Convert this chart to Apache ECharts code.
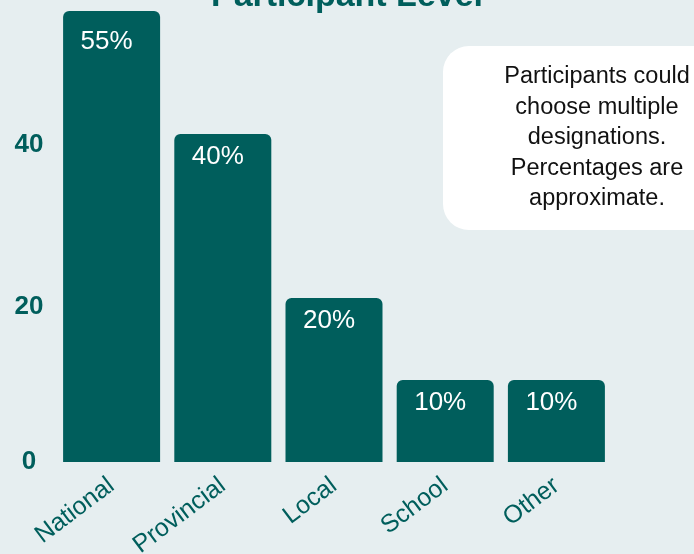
<!DOCTYPE html>
<html>
<head>
<meta charset="utf-8">
<script src="https://cdn.jsdelivr.net/npm/echarts@6/dist/echarts.min.js"></script>
<style>
html,body{margin:0;padding:0;background:#e6eef0;}
#c{width:694px;height:554px;}
</style>
</head>
<body>
<div id="c"></div>
<script>
const categories = ['National', 'Provincial', 'Local', 'School', 'Other'];
const values = [55, 40, 20, 10, 10];
const valueLabels = ['55%', '40%', '20%', '10%', '10%'];
const titleText = 'Participant Level';
const noteText = 'Participants could\nchoose multiple\ndesignations.\nPercentages are\napproximate.';

const teal = '#005e5c';
const chart = echarts.init(document.getElementById('c'));
const yRich = {};
[[0, 0], [20, 18], [40, 22]].forEach(([v, p]) => {
  yRich['t' + v] = {padding: [p, 0, 0, 0], color: teal, fontSize: 26, fontWeight: 'bold', fontFamily: 'Liberation Sans'};
});
chart.setOption({
  backgroundColor: '#e6eef0',
  animation: false,
  title: {
    text: titleText,
    left: 'center',
    top: -25,
    textStyle: {color: teal, fontSize: 34, fontWeight: 'bold', fontFamily: 'Liberation Sans'}
  },
  grid: {left: 56, right: 82, top: 11, bottom: 92, containLabel: false, outerBoundsMode: 'none'},
  xAxis: {
    type: 'category',
    data: categories,
    axisLine: {show: false},
    axisTick: {show: false},
    axisLabel: {rotate: 37, margin: 21, padding: [0, 0, 0, 0], color: teal, fontSize: 25, fontFamily: 'Liberation Sans'}
  },
  yAxis: {
    type: 'value',
    min: 0, max: 55, interval: 20,
    splitLine: {show: false},
    axisLine: {show: false},
    axisTick: {show: false},
    axisLabel: {showMaxLabel: false, align: 'center', margin: 27,
      formatter: v => '{t' + v + '|' + v + '}', rich: yRich,
      color: teal, fontSize: 26, fontWeight: 'bold', fontFamily: 'Liberation Sans'}
  },
  series: [{
    type: 'bar',
    data: values.map((v, i) => i === 0 ? {value: v, label: {distance: 18}} : v),
    barWidth: 97,
    itemStyle: {color: teal, borderRadius: [6, 6, 0, 0]},
    label: {
      show: true, position: 'insideTop', distance: 10, offset: [-5, 0],
      formatter: p => valueLabels[p.dataIndex],
      color: '#ffffff', fontSize: 26, fontFamily: 'Liberation Sans'
    }
  }],
  graphic: [{
    type: 'group',
    left: 443, top: 46,
    children: [
      {type: 'rect', shape: {x: 0, y: 0, width: 290, height: 184, r: 26}, style: {fill: '#ffffff'}},
      {type: 'text', x: 154, y: 92, style: {text: noteText, align: 'center', verticalAlign: 'middle',
        fontSize: 23.5, lineHeight: 30.5, fill: '#111111', fontFamily: 'Liberation Sans'}}
    ]
  }]
});
</script>
</body>
</html>
